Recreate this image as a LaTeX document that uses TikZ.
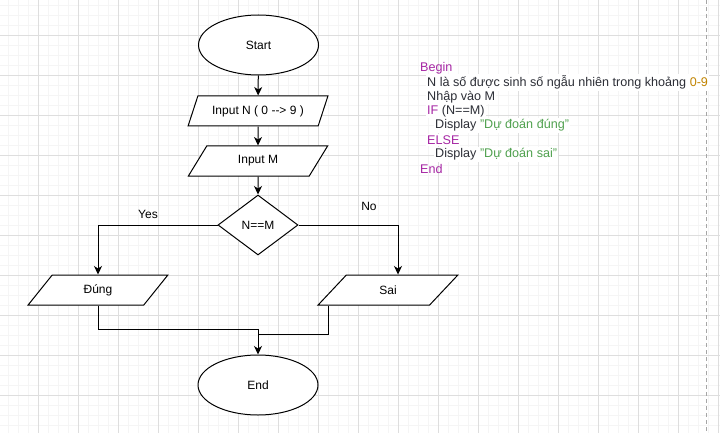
\documentclass[tikz,border=0pt]{standalone}
\usepackage{fontspec}
\usepackage{xcolor}
\setmainfont{Liberation Sans}
\usetikzlibrary{shapes.geometric,arrows.meta}
\definecolor{kwpurple}{HTML}{A626A4}
\definecolor{strgreen}{HTML}{50A14F}
\definecolor{numorange}{HTML}{C18401}
\definecolor{codetext}{HTML}{2C2E36}

\begin{document}
\begin{tikzpicture}[x=1pt,y=1pt]
\tikzstyle{every node}+=[font=\fontsize{12}{14}\selectfont]
\tikzstyle{terminal}=[draw,ellipse,line width=1pt,fill=white,minimum width=120pt,minimum height=60pt]
\tikzstyle{io}=[draw,trapezium,trapezium left angle=56.3,trapezium right angle=123.7,trapezium stretches=true,line width=1pt,fill=white,minimum width=140pt,minimum height=30pt,inner sep=0pt]
\tikzstyle{decision}=[draw,diamond,line width=1pt,fill=white,minimum width=80pt,minimum height=60pt,inner sep=0pt]
\tikzstyle{flow}=[line width=1pt,-{Stealth[length=8.5pt,width=8pt,inset=2.5pt]}]
\tikzstyle{codeline}=[anchor=west,inner xsep=1pt,inner ysep=1.5pt,text=codetext,font=\fontsize{12.6}{14}\selectfont]
\useasboundingbox (0,0) rectangle (720,-433);
\fill[white] (0,0) rectangle (720,-433);
% grid
\foreach \x in {8,18,...,718} \draw[color=black!4,line width=0.6pt] (\x,0) -- (\x,-433);
\foreach \y in {5,15,...,433} \draw[color=black!4,line width=0.6pt] (0,-\y) -- (720,-\y);
\foreach \x in {-2,38,...,718} \draw[color=black!13,line width=0.8pt] (\x,0) -- (\x,-433);
\foreach \y in {-5,35,...,435} \draw[color=black!13,line width=0.8pt] (0,-\y) -- (720,-\y);
\draw[color=black!35,line width=0.8pt,dash pattern=on 4pt off 3pt] (706,0) -- (706,-433);
% flowchart
\node[terminal] (start) at (258.5,-45) {Start};
\node[io] (inN) at (258,-111) {Input N ( 0 {-}{-}> 9 )};
\node[io] (inM) at (258,-161) {Input M};
\node[decision] (cond) at (258,-225) {N==M};
\node[io] (dung) at (98,-290) {Đúng};
\node[io] (sai) at (388,-290) {Sai};
\node[terminal] (end) at (258,-385) {End};
\node (yes) at (148,-214) {Yes};
\node (no) at (369,-206) {No};
\draw[flow] (start) -- (inN);
\draw[flow] (inN) -- (inM);
\draw[flow] (inM) -- (cond);
\draw[flow] (cond.west) -| (dung.north);
\draw[flow] (cond.east) -| ([xshift=10pt]sai.north);
\draw[line width=1pt] ([xshift=-60pt]sai.south) |- ([yshift=20pt]end.north);
\draw[flow] (dung.south) |- ([yshift=25pt]end.north) -- (end.north);
% pseudo code
\node[codeline,text=kwpurple] (cBegin) at (419,-68) {Begin};
\node[codeline,fill=white] (cN) at (426,-82.5) {N là số được sinh số ngẫu nhiên trong khoảng \textcolor{numorange}{0-9}};
\node[codeline,fill=white] (cM) at (426,-97) {Nhập vào M};
\node[codeline,fill=white] (cIf) at (426,-111) {\textcolor{kwpurple}{IF} (N==M)};
\node[codeline,fill=white] (cShow1) at (434,-125.5) {Display \textcolor{strgreen}{"Dự đoán đúng"}};
\node[codeline,fill=white,text=kwpurple] (cElse) at (426,-140) {ELSE};
\node[codeline,fill=white] (cShow2) at (434,-154.5) {Display \textcolor{strgreen}{"Dự đoán sai"}};
\node[codeline,text=kwpurple] (cEnd) at (419,-168.5) {End};
\end{tikzpicture}
\end{document}
